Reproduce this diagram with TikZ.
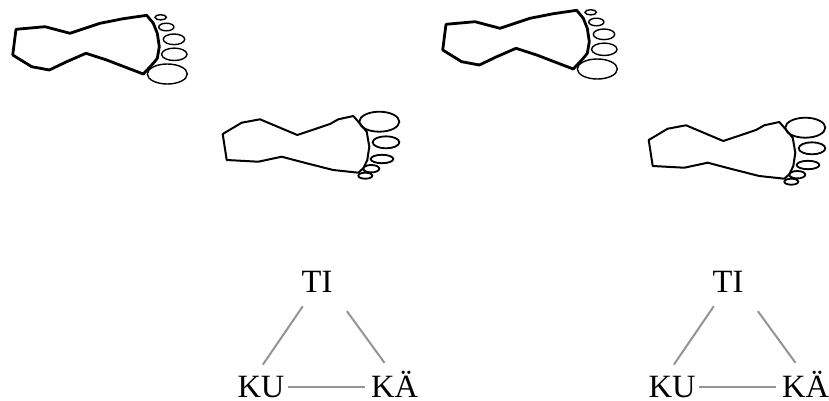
\documentclass[tikz,border=0pt]{standalone}
\usepackage{fontspec}
\setmainfont{Liberation Serif}
\usepackage{tikz}
\usetikzlibrary{positioning}

\begin{document}
\begin{tikzpicture}[x=1pt, y=-1pt,
    sole/.style={line width=2.8pt, line join=round},
    thinsole/.style={line width=2pt, line join=round},
    toe/.style={line width=1.4pt},
    word/.style={font=\fontsize{32.5}{38}\selectfont, inner sep=2pt, anchor=base},
    link/.style={draw=black!42, line width=2pt},
    topfoot/.pic={
        \draw[sole] (16,29.3) -- (45,26.7) -- (70,33.3) -- (100,23.3) -- (123.3,18.7) -- (146.7,15.3)
        -- (153.3,23.3) -- (157.3,33.3) -- (159.3,46.7) -- (157.3,58.3) -- (153.3,63.3) -- (143.3,74)
        -- (128.3,68.3) -- (106.7,60) -- (86,53.3) -- (66.7,61.7) -- (49.3,70) -- (31.7,66.7)
        -- (12.7,55) -- cycle;
        \draw[toe] (160.7,17.3) ellipse [x radius=5.7, y radius=2.6]
        (166.3,27) ellipse [x radius=7.6, y radius=3.8]
        (174,39.3) ellipse [x radius=10.7, y radius=5.3]
        (174.3,54.3) ellipse [x radius=12.7, y radius=6.2]
        (167.3,74) ellipse [x radius=20, y radius=10];
    },
    lowfoot/.pic={
        \draw[thinsole] (222.7,134) -- (241.7,122.7) -- (260,119.3) -- (297.3,135) -- (330,124)
        -- (338.3,119.3) -- (353.3,116) -- (358.3,121.7) -- (366.7,131.7) -- (369.3,146.7)
        -- (367.3,160) -- (363.3,168.3) -- (358.3,172.7) -- (333.3,170) -- (306.7,163.3)
        -- (281.7,156.7) -- (258.3,161.7) -- (226.7,160) -- cycle;
        \draw[toe, line width=1.8pt] (379.3,121.7) ellipse [x radius=20, y radius=10]
        (386,142.3) ellipse [x radius=13.3, y radius=6]
        (382,159) ellipse [x radius=11.3, y radius=4.2]
        (371.3,168.7) ellipse [x radius=8, y radius=3.7]
        (365.3,175.7) ellipse [x radius=7, y radius=3];
    }]
    \useasboundingbox (0,0) rectangle (829,400);

    % footprints
    \pic at (0,0) {topfoot};
    \pic at (0,0) {lowfoot};
    \pic at (430,-5) {topfoot};
    \pic at (426,6) {lowfoot};

    % left triangle
    \node[word] (ti) at (317,292) {TI};
    \node[word] (ku) at (261,397) {KU};
    \node[word] (ka) at (394.5,397) {KÄ};
    \draw[link, shorten <=14.6pt, shorten >=10.7pt] (ti.245) -- (ku.108);
    \draw[link, shorten <=21pt, shorten >=7pt] (ti.south east) -- (ka.111);
    \draw[link, shorten <=1.5pt, shorten >=4pt] (ku) -- (ku -| ka.west);

    % right triangle
    \begin{scope}[xshift=411pt]
    \node[word] (ti2) at (317,292) {TI};
    \node[word] (ku2) at (261,397) {KU};
    \node[word] (ka2) at (394.5,397) {KÄ};
    \draw[link, shorten <=14.6pt, shorten >=10.7pt] (ti2.245) -- (ku2.108);
    \draw[link, shorten <=21pt, shorten >=7pt] (ti2.south east) -- (ka2.111);
    \draw[link, shorten <=1.5pt, shorten >=4pt] (ku2) -- (ku2 -| ka2.west);
    \end{scope}
\end{tikzpicture}
\end{document}
